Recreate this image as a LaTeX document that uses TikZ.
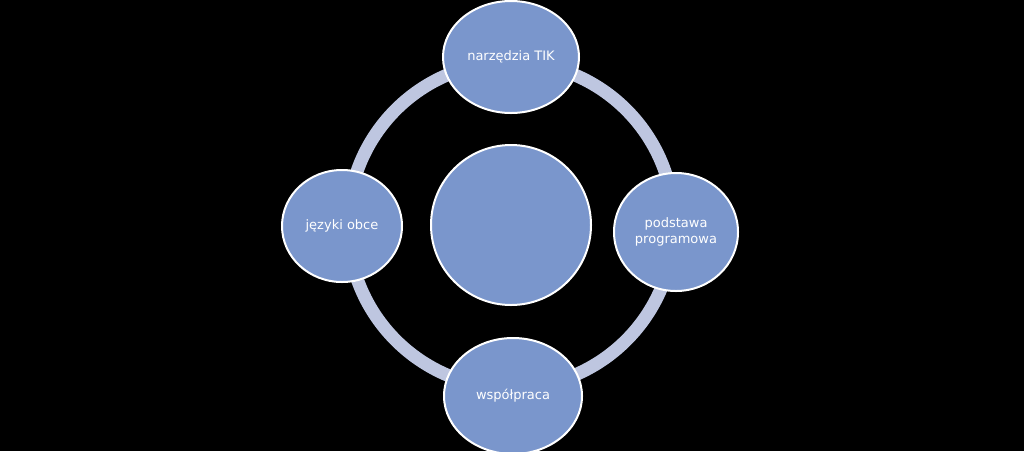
\documentclass[tikz,border=0pt]{standalone}
\usepackage{fontspec}
\setmainfont{DejaVu Sans}
\definecolor{ringc}{HTML}{BEC6E0}
\definecolor{nodec}{HTML}{7A96CC}
\tikzset{
  bubble/.style={ellipse, draw=white, line width=2pt, fill=nodec, text=white, font=\fontsize{13}{16}\selectfont, align=center, inner sep=0pt},
}
\usetikzlibrary{shapes.geometric}
\begin{document}
\begin{tikzpicture}[x=1pt,y=1pt]
\fill[black] (0,0) rectangle (1024,-451);
\useasboundingbox (0,0) rectangle (1024,-451);
\coordinate (c) at (511,-225);
\draw[ringc, line width=13pt] (c) circle [radius=163];
\node[bubble, minimum width=160, minimum height=160] (center) at (511,-225) {};
\node[bubble, minimum width=136, minimum height=112] (top) at (511,-57) {narzędzia TIK};
\node[bubble, minimum width=124, minimum height=118] (right) at (676,-232) {podstawa\\programowa};
\node[bubble, minimum width=120, minimum height=112] (left) at (342,-226) {języki obce};
\node[bubble, minimum width=138, minimum height=116] (bottom) at (513,-396) {współpraca};
\end{tikzpicture}
\end{document}
